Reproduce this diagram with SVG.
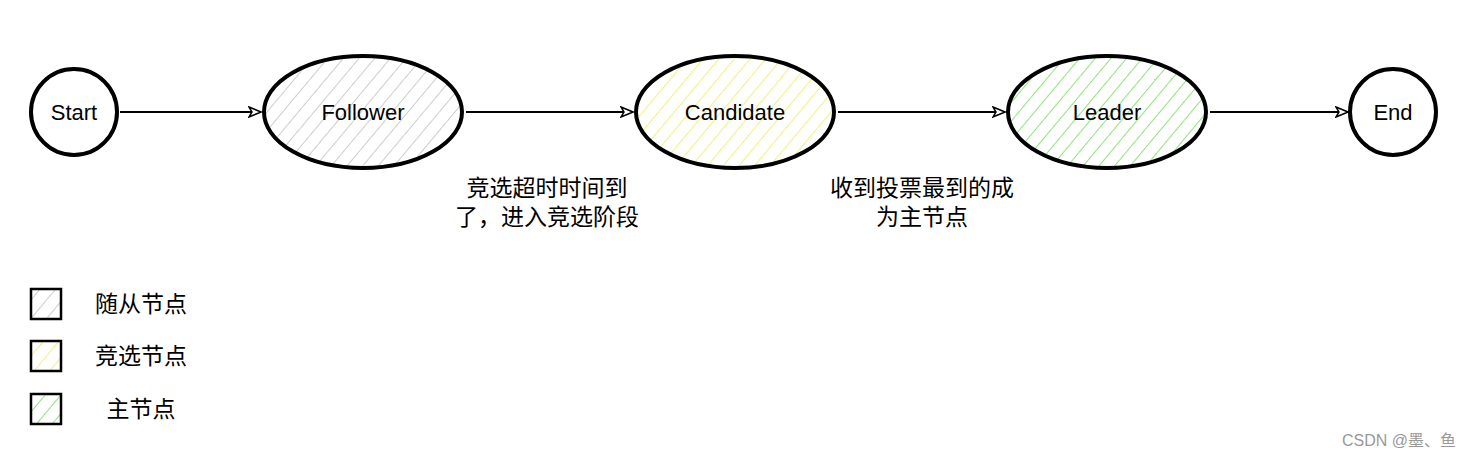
<svg xmlns="http://www.w3.org/2000/svg" width="1472" height="466" viewBox="0 0 1472 466">
<style>
.n{stroke:#000;stroke-width:4}
.t{font-family:"Liberation Sans","Noto Sans CJK SC",sans-serif;font-size:22px;fill:#000;text-anchor:middle;dominant-baseline:central}
.z{font-size:23px}
.c{stroke:#000;stroke-width:1.8;fill:none;marker-end:url(#a)}
.lg{stroke:#000;stroke-width:2.5}
</style>
<defs>
<marker id="a" markerWidth="14" markerHeight="12" refX="13" refY="6" orient="auto" markerUnits="userSpaceOnUse"><path d="M1,1 L13,6 L1,11 L4,6 Z" fill="#fff" stroke="#000" stroke-width="1.5"/></marker>
<pattern id="hg" width="12" height="12" patternUnits="userSpaceOnUse" patternTransform="rotate(40)"><line x1="0" y1="0" x2="0" y2="12" stroke="#c8c8c8" stroke-width="1.8"/></pattern>
<pattern id="hy" width="12" height="12" patternUnits="userSpaceOnUse" patternTransform="rotate(40)"><line x1="0" y1="0" x2="0" y2="12" stroke="#f0f070" stroke-width="1.8"/></pattern>
<pattern id="hl" width="12" height="12" patternUnits="userSpaceOnUse" patternTransform="rotate(40)"><line x1="0" y1="0" x2="0" y2="12" stroke="#80e468" stroke-width="1.8"/></pattern>
</defs>
<rect width="1472" height="466" fill="#fff"/>
<g id="connectors">
<line class="c" x1="120" y1="112" x2="261" y2="112"/>
<line class="c" x1="466" y1="112" x2="633" y2="112"/>
<line class="c" x1="838" y1="112" x2="1005" y2="112"/>
<line class="c" x1="1210" y1="112" x2="1348" y2="112"/>
</g>
<g id="start"><circle class="n" cx="74" cy="112" r="43" fill="#fff"/><text class="t" x="74" y="112">Start</text></g>
<g id="follower"><ellipse class="n" cx="363" cy="112" rx="99" ry="56" fill="url(#hg)"/><text class="t" x="363" y="112">Follower</text></g>
<g id="candidate"><ellipse class="n" cx="735" cy="112" rx="99" ry="56" fill="url(#hy)"/><text class="t" x="735" y="112">Candidate</text></g>
<g id="leader"><ellipse class="n" cx="1107" cy="112" rx="99" ry="56" fill="url(#hl)"/><text class="t" x="1107" y="112">Leader</text></g>
<g id="end"><circle class="n" cx="1393" cy="112" r="43" fill="#fff"/><text class="t" x="1393" y="112">End</text></g>
<g id="labels">
<text class="t z" x="547" y="188">竞选超时时间到</text>
<text class="t z" x="547" y="217">了，进入竞选阶段</text>
<text class="t z" x="922" y="188">收到投票最到的成</text>
<text class="t z" x="922" y="217">为主节点</text>
</g>
<g id="legend">
<rect class="lg" x="31" y="289" width="30" height="30" fill="url(#hg)"/>
<text class="t z" x="141" y="304">随从节点</text>
<rect class="lg" x="31" y="341" width="30" height="30" fill="url(#hy)"/>
<text class="t z" x="141" y="356">竞选节点</text>
<rect class="lg" x="31" y="394" width="30" height="30" fill="url(#hl)"/>
<text class="t z" x="141" y="409">主节点</text>
</g>
<text x="1456" y="446" style="font-family:'Liberation Sans','Noto Sans CJK SC',sans-serif;font-size:16px;fill:#999;text-anchor:end">CSDN @墨、鱼</text>
</svg>
